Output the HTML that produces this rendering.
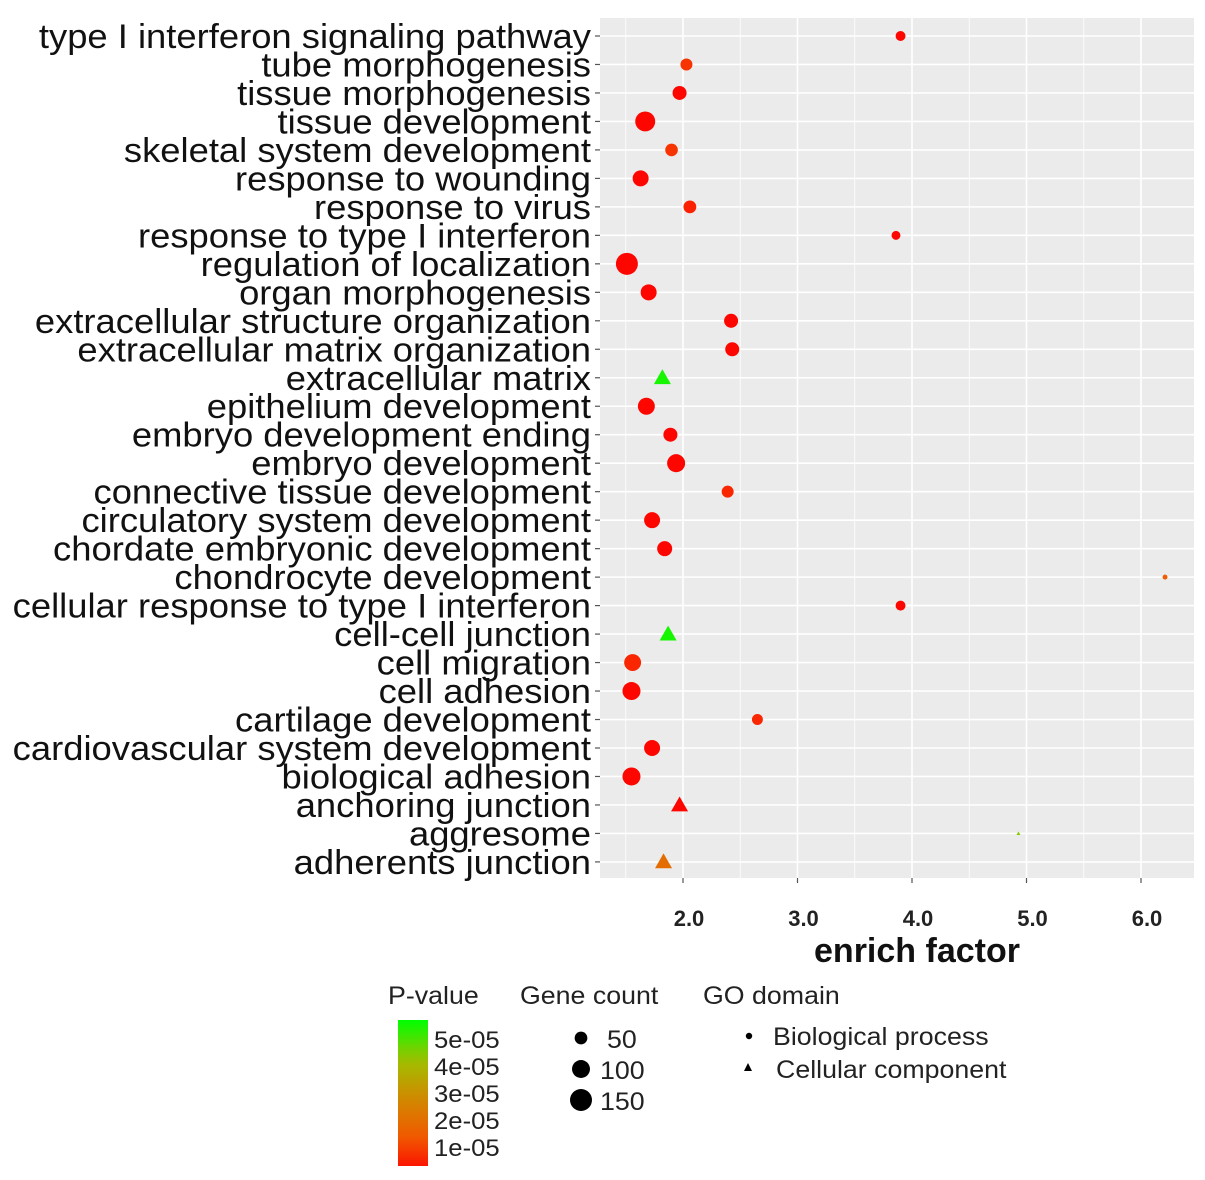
<!DOCTYPE html>
<html><head><meta charset="utf-8"><style>
body{margin:0;background:#fff;}
svg{display:block;font-family:"Liberation Sans",Arial,sans-serif;}
</style></head><body>
<svg id="chart" width="1205" height="1180" viewBox="0 0 1205 1180" xmlns="http://www.w3.org/2000/svg">
<rect x="600" y="18" width="594" height="860" fill="#ebebeb"/>
<g id="grid"></g><g id="ylabels"></g><g id="xaxis"></g><g id="marks"></g>
<text x="917" y="962" font-size="34" font-weight="bold" text-anchor="middle" fill="#111">enrich factor</text>
<g id="legend"></g>
</svg>
<script>
const terms=["type I interferon signaling pathway","tube morphogenesis","tissue morphogenesis","tissue development","skeletal system development","response to wounding","response to virus","response to type I interferon","regulation of localization","organ morphogenesis","extracellular structure organization","extracellular matrix organization","extracellular matrix","epithelium development","embryo development ending","embryo development","connective tissue development","circulatory system development","chordate embryonic development","chondrocyte development","cellular response to type I interferon","cell-cell junction","cell migration","cell adhesion","cartilage development","cardiovascular system development","biological adhesion","anchoring junction","aggresome","adherents junction"];
const enrich=[3.90,2.03,1.97,1.67,1.90,1.63,2.06,3.86,1.51,1.70,2.42,2.43,1.82,1.68,1.89,1.94,2.39,1.73,1.84,6.21,3.90,1.87,1.56,1.55,2.65,1.73,1.55,1.97,4.93,1.83];
const geneCount=[37,54,74,150,60,96,62,30,182,96,74,74,90,108,74,122,54,96,85,9,37,90,108,122,45,96,122,90,3,80];
const pvalue=[1e-6,8e-6,1e-6,1e-6,8e-6,1e-6,5e-6,1e-6,1e-6,1e-6,1e-6,1e-6,5.5e-5,1e-6,1e-6,1e-6,6e-6,1e-6,1e-6,1.5e-5,1e-6,5.5e-5,6e-6,1e-6,6e-6,1e-6,1e-6,1e-6,4.5e-5,2e-5];
const domain=["BP","BP","BP","BP","BP","BP","BP","BP","BP","BP","BP","BP","CC","BP","BP","BP","BP","BP","BP","BP","BP","CC","BP","BP","BP","BP","BP","CC","CC","CC"];
const xTicks=[2,3,4,5,6];
const xTickLabels=["2.0","3.0","4.0","5.0","6.0"];
const pTicks=[1e-5,2e-5,3e-5,4e-5,5e-5];
const pTickLabels=["1e-05","2e-05","3e-05","4e-05","5e-05"];
const countLegend=[50,100,150];

const NS="http://www.w3.org/2000/svg";
function mk(tag,attrs,parent){const e=document.createElementNS(NS,tag);for(const k in attrs)e.setAttribute(k,attrs[k]);parent.appendChild(e);return e;}
function stretch(e,f){const w=e.getComputedTextLength();e.setAttribute('textLength',w*f);e.setAttribute('lengthAdjust','spacingAndGlyphs');}
const xS=v=>683+(v-2)*114.5;
const yS=i=>36+i*28.48;
const rS=c=>0.816*Math.sqrt(c);
const stops=[[255,0,0],[240,90,0],[208,138,0],[160,192,0],[0,255,0]];
function col(p){let t=Math.max(0,Math.min(1,p/5.7e-5))*4;const i=Math.min(3,Math.floor(t)),f=t-i;const a=stops[i],b=stops[i+1];return`rgb(${a.map((v,k)=>Math.round(v+(b[k]-v)*f)).join(",")})`;}
const pY=p=>1175-p*2.7e6;

const grid=document.getElementById('grid');
for(let v=1.5;v<=6.5;v+=0.5){const x=xS(v);if(x<600||x>1194)continue;
 const l=mk('line',{x1:x,x2:x,y1:18,y2:878,stroke:'#fff','stroke-width':(v%1===0)?1.6:0.8},grid);
 }
terms.forEach((t,i)=>{const l=mk('line',{x1:600,x2:1194,y1:yS(i),y2:yS(i),stroke:'#fff','stroke-width':1.6},grid);
 });

const yl=document.getElementById('ylabels');
terms.forEach((t,i)=>{const e=mk('text',{x:591,y:yS(i)+12,'font-size':34,'text-anchor':'end',fill:'#111'},yl);e.textContent=t;
 
 stretch(e,1.07);
 const tk=mk('line',{x1:595,x2:600,y1:yS(i),y2:yS(i),stroke:'#555','stroke-width':1.2},yl);
 });

const xa=document.getElementById('xaxis');
xTicks.forEach((v,i)=>{const x=xS(v);
 const tk=mk('line',{x1:x,x2:x,y1:878,y2:883,stroke:'#555','stroke-width':1.2},xa);
 
 const e=mk('text',{x:x+6,y:926,'font-size':22,'font-weight':'bold','text-anchor':'middle',fill:'#222'},xa);e.textContent=xTickLabels[i];
 });

const mg=document.getElementById('marks');
terms.forEach((t,i)=>{const x=xS(enrich[i]),y=yS(i),c=col(pvalue[i]);let e;
 if(domain[i]==="BP"){e=mk('circle',{cx:x,cy:y,r:rS(geneCount[i]),fill:c},mg);}
 else{const s=geneCount[i]<10?2:8.5;e=mk('polygon',{points:`${x},${y-s} ${x-s},${y+s*0.75} ${x+s},${y+s*0.75}`,fill:c},mg);}
 });

const lg=document.getElementById('legend');
function txt(x,y,s,fs,name){const e=mk('text',{x:x,y:y,'font-size':fs,fill:'#222'},lg);e.textContent=s;stretch(e,1.07);return e;}
txt(388,1004,"P-value",25,'pvalue-legend-title');
txt(520,1004,"Gene count",25,'genecount-legend-title');
txt(703,1004,"GO domain",25,'godomain-legend-title');
const defs=mk('defs',{},lg);
const gr=mk('linearGradient',{id:'pg',x1:0,y1:1,x2:0,y2:0},defs);
for(let k=0;k<=10;k++){const p=(1175-1166+k*14.6)/2.7e6;mk('stop',{offset:k/10,'stop-color':col(p)},gr);}
const bar=mk('rect',{x:398,y:1020,width:30,height:146,fill:'url(#pg)'},lg);

pTicks.forEach((p,i)=>{txt(434,pY(p)+8,pTickLabels[i],24,'pvalue-legend-label');});
countLegend.forEach((c,i)=>{const y=1038+i*31;
 const e=mk('circle',{cx:581,cy:y,r:rS(c)*1.1,fill:'#000'},lg);
 txt(c<100?607:600,y+10,String(c),25,'genecount-legend-label');});
const b=mk('circle',{cx:749,cy:1036,r:3.2,fill:'#000'},lg);
txt(773,1045,"Biological process",25,'bp-legend-label');
const tr=mk('polygon',{points:'748,1063 744,1071 752,1071',fill:'#000'},lg);
txt(776,1078,"Cellular component",25,'cc-legend-label');
</script>
</body></html>
